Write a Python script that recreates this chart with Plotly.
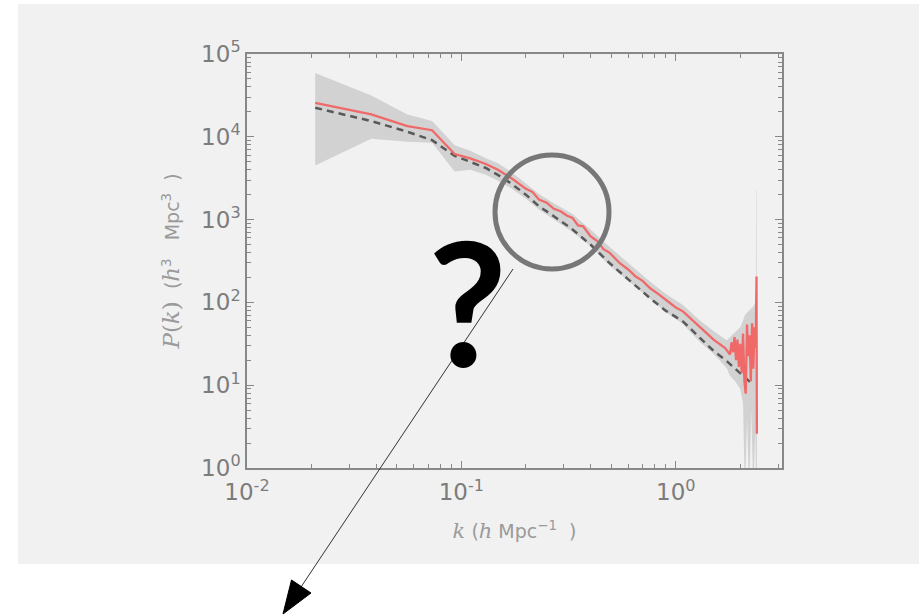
import math
import plotly.graph_objects as go

# ---------------- data ----------------
k_meas = [0.0208, 0.038, 0.056, 0.073, 0.093, 0.11, 0.13, 0.148, 0.17, 0.2, 0.215, 0.23, 0.25,
          0.27, 0.29, 0.31, 0.33, 0.35, 0.37, 0.40, 0.43, 0.46, 0.49, 0.55, 0.60, 0.65, 0.70,
          0.76, 0.83, 0.90, 1.00, 1.08, 1.2, 1.3, 1.4, 1.5, 1.6, 1.7, 1.79, 1.82, 1.85, 1.88,
          1.91, 1.94, 1.97, 2.00, 2.03, 2.06, 2.09, 2.12, 2.15, 2.18, 2.21, 2.24, 2.27, 2.30,
          2.33, 2.36, 2.38, 2.39]
P_meas = [25700, 18600, 13500, 12000, 6200, 5500, 4700, 4000, 3200, 2350, 2150, 1750, 1600,
          1350, 1260, 1120, 1050, 850, 830, 630, 550, 440, 400, 295, 250, 205, 182,
          148, 126, 107, 87, 78, 60, 50, 42, 35.5, 31.6, 28, 23.4, 33, 25, 38,
          20, 35.5, 16.6, 31.6, 14, 42, 11.2, 7.9, 54, 22.4, 40, 11.2, 56, 15.8,
          50, 28, 205, 2.6]

k_theory = [0.0208, 0.038, 0.056, 0.073, 0.093, 0.11, 0.13, 0.148, 0.17, 0.2, 0.23, 0.27,
            0.33, 0.4, 0.49, 0.6, 0.76, 0.9, 1.08, 1.3, 1.5, 1.73, 2.0, 2.26]
P_theory = [22400, 15500, 11500, 9100, 5900, 5000, 4200, 3470, 2750, 2000, 1450, 1100,
            760, 500, 300, 190, 112, 79, 59, 37, 26, 19.5, 13.8, 10.5]

k_band = [0.0208, 0.038, 0.056, 0.073, 0.093, 0.11, 0.13, 0.148, 0.17, 0.2, 0.23, 0.27,
          0.33, 0.4, 0.49, 0.6, 0.76, 0.9, 1.08, 1.3, 1.5, 1.73, 1.79, 1.9, 2.0, 2.06,
          2.1, 2.15, 2.2, 2.25, 2.3, 2.35, 2.37, 2.38, 2.39]
P_upper = [59000, 31600, 18600, 15500, 7900, 6800, 5500, 4800, 3800, 2750, 2040, 1580,
           1170, 760, 470, 300, 178, 126, 93, 60, 45, 35, 38, 45, 50, 60,
           70, 75, 79, 85, 89, 100, 160, 2300, 2300]
P_lower = [4500, 9500, 8700, 8500, 3800, 4000, 3470, 2950, 2400, 1780, 1320, 1000,
           710, 480, 280, 182, 110, 76, 55, 33, 24, 16, 13, 11, 9, 6,
           0.5, 4, 0.5, 5, 0.5, 3, 0.5, 0.5, 0.5]

x_tickvals = [0.01, 0.1, 1]
x_ticktext = ["10<sup>-2</sup>", "10<sup>-1</sup>", "10<sup>0</sup>"]
y_tickvals = [1, 10, 100, 1000, 10000, 100000]
y_ticktext = ["10<sup>0</sup>", "10<sup>1</sup>", "10<sup>2</sup>", "10<sup>3</sup>",
              "10<sup>4</sup>", "10<sup>5</sup>"]

# ---------------- layout helpers ----------------
W, H = 919, 615
L, R, T, B = 247, 782, 54, 468


def pxx(p):
    return (p - L) / (R - L)


def pxy(p):
    return (B - p) / (B - T)


minor_x = [m * 10 ** e for e in (-2, -1, 0) for m in range(2, 10) if m * 10 ** e < 3.2]
minor_y = [m * 10 ** e for e in range(0, 5) for m in range(2, 10)]

axis_col = "#888888"
tick_font = dict(family="DejaVu Sans", size=23, color="#7c7c7c")
title_font = dict(family="DejaVu Sans", size=19, color="#9a9a9a")
NB = "\u00a0"
SERIF = '<span style="font-family:DejaVu Serif;font-size:21px">'
SERIF_Y = '<span style="font-family:DejaVu Serif;font-size:23px">'

x_title = (SERIF + "<i>k</i></span>" + NB + "(" + SERIF + "<i>h</i></span>" + NB
           + "Mpc<sup>−1</sup>" + NB * 2 + ")")
y_title = (SERIF_Y + "<i>P</i>(<i>k</i>)</span>" + NB * 2 + "(" + SERIF_Y + "<i>h</i></span>"
           + "<sup>3</sup>" + NB * 3 + "Mpc<sup>3</sup>" + NB * 2 + ")")

fig = go.Figure()

fig.add_trace(go.Scatter(x=k_band, y=P_lower, mode="lines", line=dict(width=0),
                         showlegend=False, hoverinfo="skip"))
fig.add_trace(go.Scatter(x=k_band, y=P_upper, mode="lines", line=dict(width=0),
                         fill="tonexty", fillcolor="rgba(205,205,205,0.85)",
                         showlegend=False, hoverinfo="skip"))
fig.add_trace(go.Scatter(x=k_theory, y=P_theory, mode="lines",
                         line=dict(color="#595959", width=2.5, dash="7px,5px"),
                         showlegend=False))
fig.add_trace(go.Scatter(x=k_meas, y=P_meas, mode="lines",
                         line=dict(color="rgb(240,105,105)", width=2.3),
                         showlegend=False))

fig.update_layout(
    width=W, height=H,
    margin=dict(l=L, r=W - R, t=T, b=H - B, pad=0),
    paper_bgcolor="white",
    plot_bgcolor="#f1f1f1",
    showlegend=False,
    xaxis=dict(
        type="log", range=[-2, math.log10(3.13)],
        tickmode="array", tickvals=x_tickvals, ticktext=x_ticktext,
        ticks="inside", ticklen=7, tickwidth=1, tickcolor=axis_col,
        showline=True, linecolor=axis_col, linewidth=1.5, mirror="ticks",
        showgrid=False, zeroline=False, tickfont=tick_font, ticklabelstandoff=3,
        minor=dict(tickmode="array", tickvals=minor_x, ticks="inside", ticklen=4,
                   tickcolor=axis_col, showgrid=False),
        title=dict(text=x_title, font=title_font, standoff=20),
    ),
    yaxis=dict(
        type="log", range=[0, 5],
        tickmode="array", tickvals=y_tickvals, ticktext=y_ticktext,
        ticks="inside", ticklen=7, tickwidth=1, tickcolor=axis_col,
        showline=True, linecolor=axis_col, linewidth=1.5, mirror="ticks",
        showgrid=False, zeroline=False, tickfont=tick_font,
        minor=dict(tickmode="array", tickvals=minor_y, ticks="inside", ticklen=4,
                   tickcolor=axis_col, showgrid=False),
        title=dict(text=y_title, font=title_font, standoff=16),
    ),
    shapes=[
        dict(type="rect", xref="paper", yref="paper", layer="below",
             x0=pxx(18), x1=pxx(919), y0=pxy(4), y1=pxy(564),
             fillcolor="#f1f1f1", line=dict(width=0)),
        dict(type="circle", xref="paper", yref="paper",
             x0=pxx(495), x1=pxx(609), y0=pxy(155), y1=pxy(269),
             line=dict(color="#777777", width=5)),
        dict(type="line", xref="paper", yref="paper",
             x0=pxx(513), y0=pxy(269), x1=pxx(301), y1=pxy(587),
             line=dict(color="#333333", width=1)),
        dict(type="path", xref="paper", yref="paper",
             path="M {:.5f},{:.5f} L {:.5f},{:.5f} L {:.5f},{:.5f} Z".format(
                 pxx(283), pxy(614), pxx(291.5), pxy(580), pxx(311), pxy(593)),
             fillcolor="black", line=dict(color="black", width=1)),
    ],
    annotations=[
        dict(text="<b>?</b>", xref="paper", yref="paper", x=pxx(467), y=pxy(300),
             xanchor="center", yanchor="middle", showarrow=False,
             font=dict(family="Lato", size=172, color="black")),
    ],
)

fig.write_html("out.html")
